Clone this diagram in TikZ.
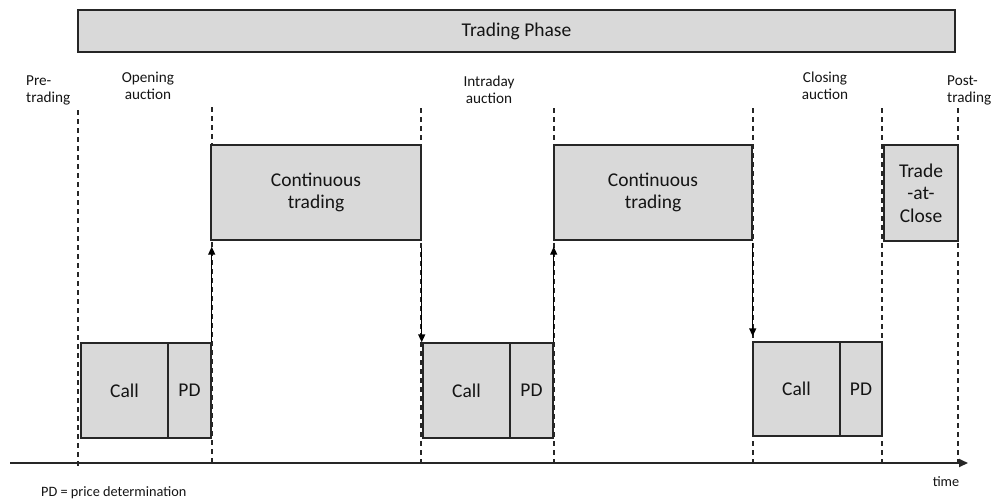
\documentclass[tikz,border=0pt]{standalone}
\usepackage{fontspec}
\setmainfont{Carlito}
\usetikzlibrary{arrows.meta}
\definecolor{boxfill}{RGB}{217,217,217}
\definecolor{edge}{RGB}{38,38,38}
\definecolor{txt}{RGB}{20,20,20}
\begin{document}
\begin{tikzpicture}[x=1pt,y=-1pt,
  box/.style={draw=edge, line width=1.4pt, fill=boxfill, inner sep=0pt, align=center,
    text=txt, font=\fontsize{19.5}{22.5}\selectfont},
  lbl/.style={font=\fontsize{15.2}{17}\selectfont, align=center, inner sep=0pt, text=txt},
  small/.style={font=\fontsize{14.3}{17}\selectfont, inner sep=0pt, text=txt},
  guide/.style={draw=edge, line width=1.4pt, dash pattern=on 5pt off 4pt},
  arr/.style={draw=black, line width=1.4pt, -{Triangle[length=8pt,width=7pt]}},
  axis/.style={draw=edge, line width=1.8pt, -{Triangle[length=9pt,width=8pt]}}]
\useasboundingbox (0,0) rectangle (992,503);

% dashed guides
\foreach \gx/\gy in {78/110, 212/107, 421/108, 554/108, 753/108, 882/108, 958/108}
  \draw[guide] (\gx,\gy) -- (\gx,466);

% axis
\coordinate (ax0) at (10,463);
\coordinate (ax1) at (968,463);
\draw[axis] (ax0) -- (ax1);

% top bar
\node[box, line width=1.8pt, minimum width=877pt, minimum height=42pt] (phase) at (516.5,31) {Trading Phase};

% continuous trading & TaC
\node[box, minimum width=210pt, minimum height=95pt] (cont1) at (316,192.5) {Continuous\\trading};
\node[box, minimum width=198pt, minimum height=95pt] (cont2) at (653,192.5) {Continuous\\trading};
\node[box, minimum width=74pt, minimum height=96pt] (tac) at (921,193) {Trade\\-at-\\Close};

% call / PD boxes
\node[box, minimum width=87pt, minimum height=95pt] (call1) at (124.5,390.5) {Call};
\node[box, minimum width=43pt, minimum height=95pt] (pd1) at (189.5,390.5) {PD};
\node[box, minimum width=87pt, minimum height=95pt] (call2) at (466.5,390.5) {Call};
\node[box, minimum width=43pt, minimum height=95pt] (pd2) at (531.5,390.5) {PD};
\node[box, minimum width=87pt, minimum height=94pt] (call3) at (796.5,389) {Call};
\node[box, minimum width=42pt, minimum height=94pt] (pd3) at (861,389) {PD};

% arrows
\draw[arr, shorten >=6pt] (pd1.north east) -- (pd1.north east |- cont1.south);
\draw[arr, shorten <=7pt] (cont1.south east) -- (cont1.south east |- call2.north);
\draw[arr, shorten >=6pt] (pd2.north east) -- (pd2.north east |- cont2.south);
\draw[arr, shorten <=2pt, shorten >=5pt] (cont2.south east) -- (cont2.south east |- call3.north);

% phase labels
\node[lbl, align=left, anchor=west] (pre) at (26,90) {Pre-\\trading};
\node[lbl] (open) at (148,86) {Opening\\auction};
\node[lbl] (intra) at (489,90) {Intraday\\auction};
\node[lbl] (close) at (825,86) {Closing\\auction};
\node[lbl, align=left, anchor=west] (post) at (947,90) {Post-\\trading};

% legend
\node[small] (time) at (946,482) {time};
\node[small, anchor=west] (legend) at (41,493) {PD = price determination};
\end{tikzpicture}
\end{document}
